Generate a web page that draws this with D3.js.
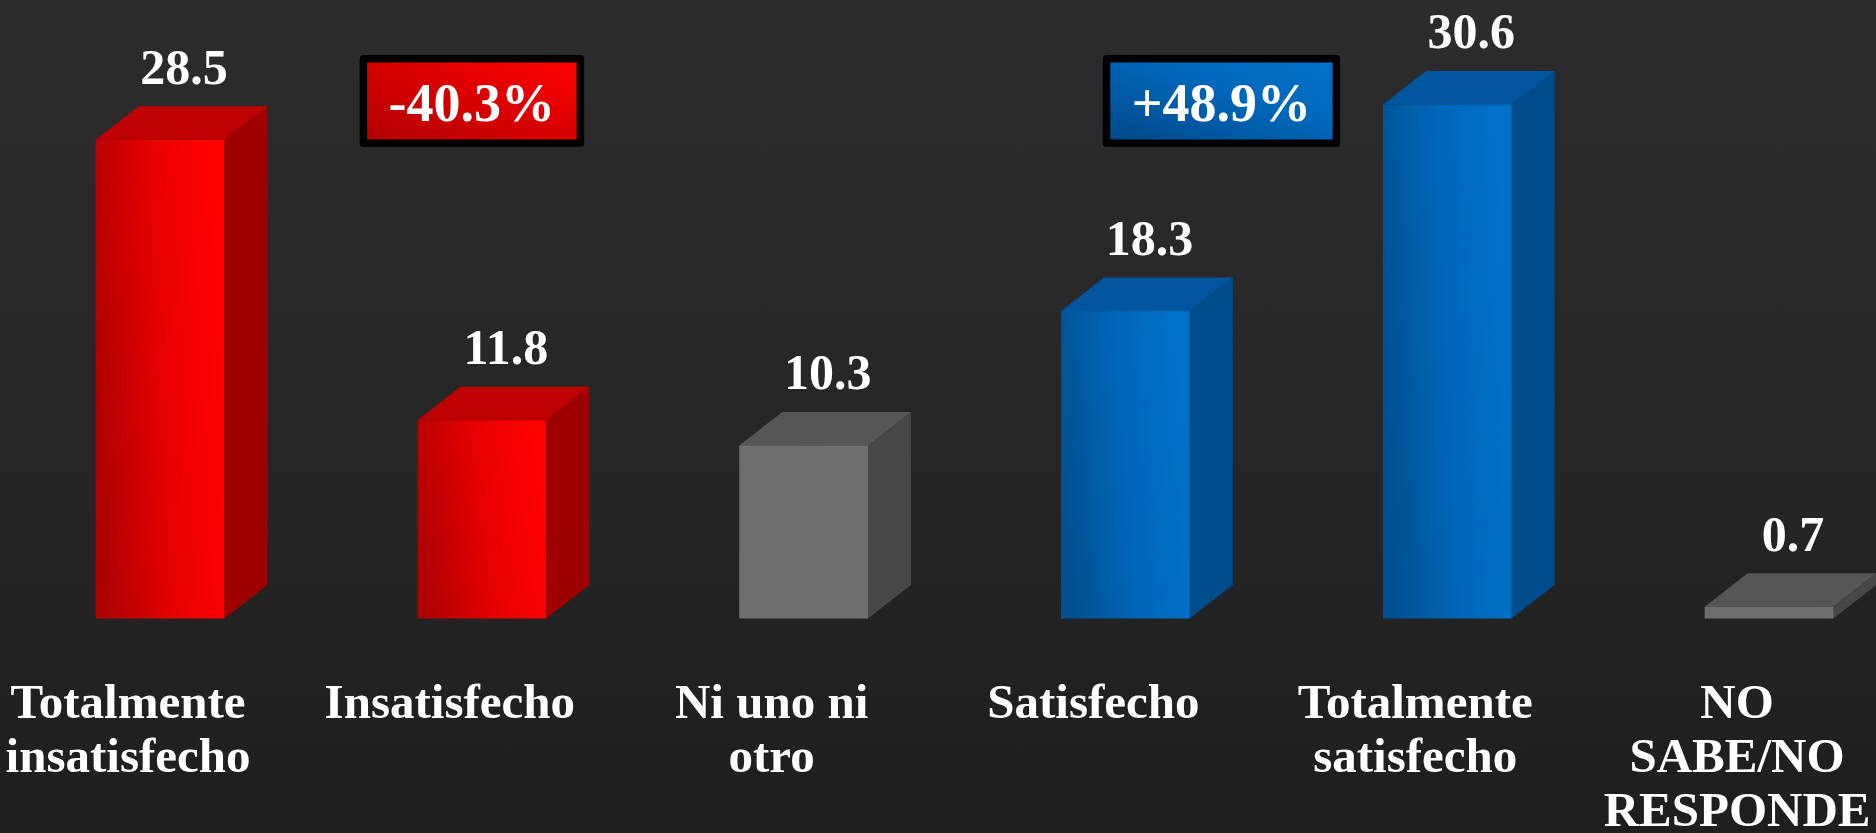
<!DOCTYPE html>
<html>
<head>
<meta charset="utf-8">
<script src="https://cdn.jsdelivr.net/npm/d3@7"></script>
<style>
  html, body { margin: 0; padding: 0; background: #222; }
  svg { display: block; }
  text { font-family: "Liberation Serif", "Times New Roman", serif; font-weight: bold; fill: #fff; }
</style>
</head>
<body>
<svg id="chart" width="1876" height="833"></svg>
<script>
// chart data
const categories = ["Totalmente insatisfecho", "Insatisfecho", "Ni uno ni otro", "Satisfecho", "Totalmente satisfecho", "NO SABE/NO RESPONDE"];
const labelLines = [["Totalmente", "insatisfecho"], ["Insatisfecho"], ["Ni uno ni", "otro"], ["Satisfecho"], ["Totalmente", "satisfecho"], ["NO", "SABE/NO", "RESPONDE"]];
const values = [28.5, 11.8, 10.3, 18.3, 30.6, 0.7];
const groups = ["neg", "neg", "neutral", "pos", "pos", "neutral"];
const changeLabels = ["-40.3%", "+48.9%"];

const W = 1876, H = 833;
const baseY = 618.5;
const depthX = 43, depthY = 33.5;

const svg = d3.select('#chart');
const defs = svg.append('defs');

// background
let bg = defs.append('linearGradient').attr('id', 'bg').attr('x1', 0).attr('y1', 0).attr('x2', 0).attr('y2', 1);
bg.append('stop').attr('offset', 0).attr('stop-color', '#2c2c2e');
bg.append('stop').attr('offset', 0.6).attr('stop-color', '#252526');
bg.append('stop').attr('offset', 1).attr('stop-color', '#1e1e20');
svg.append('rect').attr('width', W).attr('height', H).attr('fill', 'url(#bg)');

// colours per group: front gradient stops, top face, side face
const palette = {
  neg: { front: ['#ad0000', '#e60000', '#ff0000'], top: '#bf0000', side: '#9e0000' },
  neutral: { front: ['#6e6e6e', '#6e6e6e', '#707070'], top: '#565656', side: '#474747' },
  pos: { front: ['#00508f', '#0066b8', '#0071c9'], top: '#00569e', side: '#004b8a' }
};

Object.entries(palette).forEach(([k, p]) => {
  let g = defs.append('linearGradient').attr('id', 'front-' + k)
    .attr('x1', 0).attr('y1', 0.6).attr('x2', 1).attr('y2', 0.4);
  p.front.forEach((c, i) => g.append('stop').attr('offset', i / (p.front.length - 1)).attr('stop-color', c));
});

let boxNeg = defs.append('linearGradient').attr('id', 'box-neg').attr('x1', 0).attr('y1', 1).attr('x2', 1).attr('y2', 0);
boxNeg.append('stop').attr('offset', 0).attr('stop-color', '#b00000');
boxNeg.append('stop').attr('offset', 1).attr('stop-color', '#ff0000');
let boxPos = defs.append('linearGradient').attr('id', 'box-pos').attr('x1', 0).attr('y1', 1).attr('x2', 1).attr('y2', 0);
boxPos.append('stop').attr('offset', 0).attr('stop-color', '#00498a');
boxPos.append('stop').attr('offset', 0.6).attr('stop-color', '#0068bb');
boxPos.append('stop').attr('offset', 1).attr('stop-color', '#0071c9');

// scales
const x = d3.scaleBand()
  .domain(categories)
  .range([95.7, 1833.4])
  .paddingInner(0.6)
  .paddingOuter(0);
const y = d3.scaleLinear().domain([0, 35]).range([baseY, baseY - 35 * 16.8]);
const bw = x.bandwidth();

const data = categories.map((c, i) => ({ cat: c, value: values[i], group: groups[i], lines: labelLines[i] }));

const bars = svg.append('g').selectAll('g').data(data).join('g');

// side face
bars.append('path')
  .attr('fill', d => palette[d.group].side)
  .attr('d', d => {
    const x1 = x(d.cat) + bw, yt = y(d.value);
    return `M${x1},${baseY}L${x1},${yt}L${x1 + depthX},${yt - depthY}L${x1 + depthX},${baseY - depthY}Z`;
  });
// top face
bars.append('path')
  .attr('fill', d => palette[d.group].top)
  .attr('d', d => {
    const x0 = x(d.cat), yt = y(d.value);
    return `M${x0},${yt}L${x0 + bw},${yt}L${x0 + bw + depthX},${yt - depthY}L${x0 + depthX},${yt - depthY}Z`;
  });
// front face
bars.append('rect')
  .attr('x', d => x(d.cat))
  .attr('y', d => y(d.value))
  .attr('width', bw)
  .attr('height', d => baseY - y(d.value))
  .attr('fill', d => `url(#front-${d.group})`);

// value labels
const fmt = d3.format('.1f');
bars.append('text')
  .attr('x', d => x(d.cat) + bw / 2 + 24)
  .attr('y', d => y(d.value) - 56)
  .attr('text-anchor', 'middle')
  .attr('font-size', 50)
  .text(d => fmt(d.value));

// category labels
bars.append('text')
  .attr('text-anchor', 'middle')
  .attr('font-size', 49)
  .each(function (d) {
    const t = d3.select(this);
    d.lines.forEach((ln, i) => {
      t.append('tspan')
        .attr('x', x(d.cat) + bw / 2 - 32)
        .attr('y', 718 + i * 54)
        .text(ln);
    });
  });

// change boxes (width follows the text)
const boxes = [
  { label: changeLabels[0], fill: 'url(#box-neg)', cx: x(categories[1]) + bw / 2 - 10 },
  { label: changeLabels[1], fill: 'url(#box-pos)', cx: x(categories[3]) + bw / 2 + 96 }
];
const bh2 = 92, boxTop = 55, border = 7.5;
const bx = svg.append('g').selectAll('g').data(boxes).join('g');
const outer = bx.append('rect').attr('y', boxTop).attr('height', bh2).attr('rx', 4).attr('fill', '#000');
const inner = bx.append('rect').attr('y', boxTop + border).attr('height', bh2 - 2 * border).attr('fill', d => d.fill);
bx.append('text')
  .attr('x', d => d.cx)
  .attr('y', boxTop + 66)
  .attr('text-anchor', 'middle')
  .attr('font-size', 54)
  .text(d => d.label)
  .each(function (d) { d.w = this.getComputedTextLength() + 58; });
outer.attr('x', d => d.cx - d.w / 2).attr('width', d => d.w);
inner.attr('x', d => d.cx - d.w / 2 + border).attr('width', d => d.w - 2 * border);
</script>
</body>
</html>
